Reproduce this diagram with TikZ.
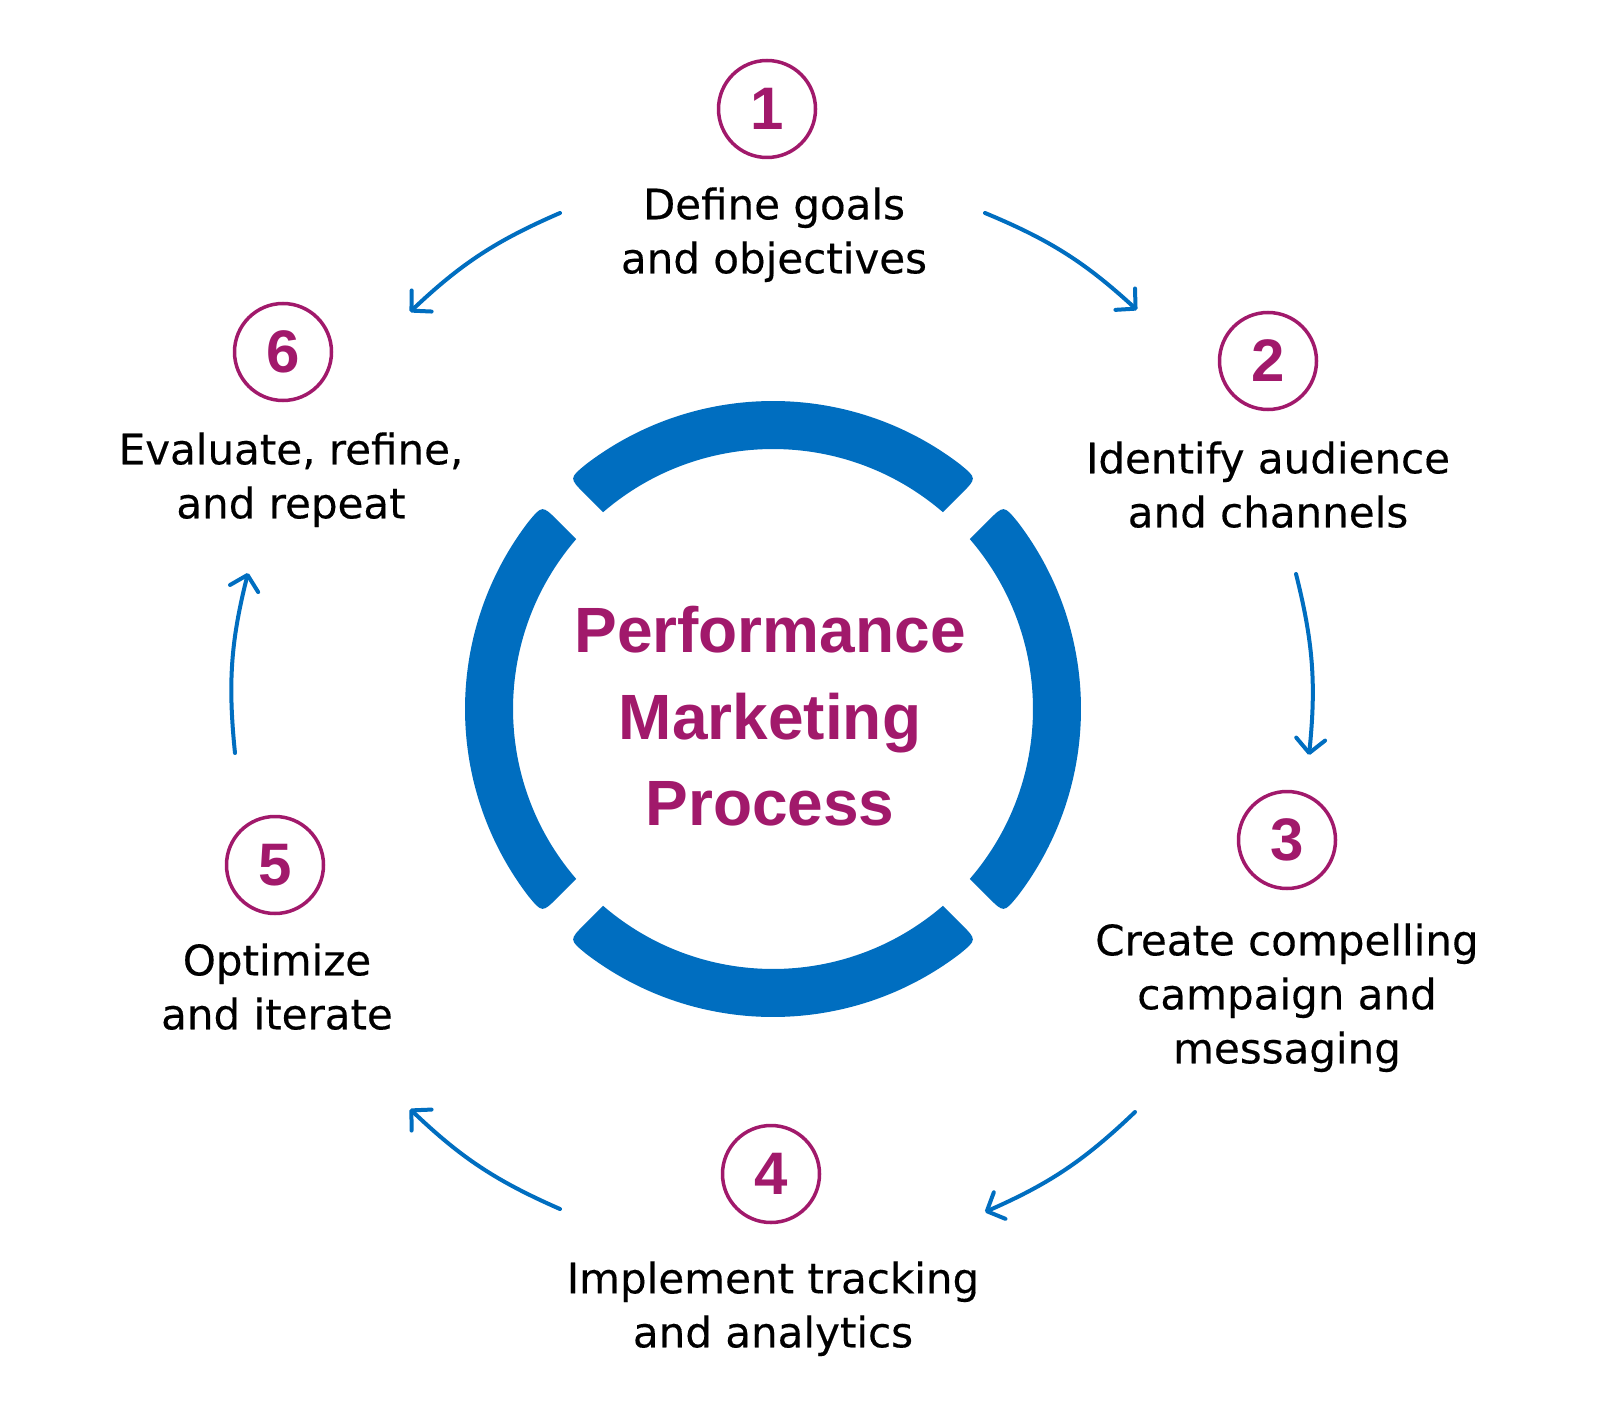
\documentclass[tikz,border=0pt]{standalone}
\usepackage{fontspec}
\setmainfont{DejaVu Sans}[FakeBold=0.35]
\newfontfamily\titlefont{Liberation Sans}
\usetikzlibrary{arrows.meta,calc}
\definecolor{ringblue}{RGB}{0,110,192}
\definecolor{mkmag}{RGB}{161,25,107}
\begin{document}
\begin{tikzpicture}[x=0.5pt,y=-0.5pt,
  numcircle/.style={circle, draw=mkmag, line width=1.75pt, minimum size=48.5pt, inner sep=0pt, text=mkmag,
    font=\titlefont\bfseries\fontsize{30pt}{30pt}\selectfont},
  steptext/.style={anchor=north, align=center, inner sep=0pt, text=black,
    font=\fontsize{21pt}{27pt}\selectfont},
  titletext/.style={anchor=north, align=center, inner sep=0pt, text=mkmag,
    font=\titlefont\bfseries\fontsize{32pt}{43.25pt}\selectfont},
  flow/.style={draw=ringblue, line width=2pt, line cap=round,
    -{Straight Barb[length=7pt,width=14.5pt,round]}},
]
\useasboundingbox (0,0) rectangle (1600,1417);
\fill[white] (0,0) rectangle (1600,1417);

% central ring
\begin{scope}[shift={(773,709)}]
\foreach \g in {45,135,225,315}{
  \pgfmathsetmacro\gb{\g+90}
  \coordinate (iA) at ({\g+4.19}:260);
  \coordinate (oA) at ({\g+3.54}:308);
  \coordinate (oB) at ({\gb-3.54}:308);
  \coordinate (iB) at ({\gb-4.19}:260);
  \fill[ringblue] (iA) -- ($(iA)!0.54!(oA)$) .. controls (oA) .. ({\g+7.63}:308)
     arc[start angle={\g+7.63}, end angle={\gb-7.63}, radius=308]
     .. controls (oB) .. ($(iB)!0.54!(oB)$) -- (iB)
     arc[start angle={\gb-4.19}, end angle={\g+4.19}, radius=260] -- cycle;
}
\end{scope}

\node[titletext] (title) at (770,606) {Performance\\Marketing\\Process};

% numbered steps
\node[numcircle] (n1) at (767,109) {1};
\node[numcircle] (n2) at (1268,361) {2};
\node[numcircle] (n3) at (1287,840) {3};
\node[numcircle] (n4) at (771,1174) {4};
\node[numcircle] (n5) at (275,865) {5};
\node[numcircle] (n6) at (283,352) {6};

\node[steptext] (t1) at (774,187) {Define goals\\and objectives};
\node[steptext] (t2) at (1268,441) {Identify audience\\and channels};
\node[steptext] (t3) at (1287,923) {Create compelling\\campaign and\\messaging};
\node[steptext] (t4) at (773,1261) {Implement tracking\\and analytics};
\node[steptext] (t5) at (277,943) {Optimize\\and iterate};
\node[steptext] (t6) at (291,432) {Evaluate, refine,\\and repeat};

% arrows
\coordinate (a1s) at (985,213);  \coordinate (a1e) at (1137,310);
\coordinate (a2s) at (1296,574); \coordinate (a2e) at (1309,755);
\coordinate (a3s) at (1135,1112);\coordinate (a3e) at (985,1212);
\coordinate (a4s) at (560,1209); \coordinate (a4e) at (410,1109);
\coordinate (a5s) at (235,753);  \coordinate (a5e) at (248,573);
\coordinate (a6s) at (560,213);  \coordinate (a6e) at (410,312);

\draw[flow] (a1s) to[bend left=10] (a1e);
\draw[flow] (a2s) to[bend left=10] (a2e);
\draw[flow] (a3s) to[bend left=10] (a3e);
\draw[flow] (a4s) to[bend left=10] (a4e);
\draw[flow] (a5s) to[bend left=10] (a5e);
\draw[flow] (a6s) to[bend right=10] (a6e);
\end{tikzpicture}
\end{document}
